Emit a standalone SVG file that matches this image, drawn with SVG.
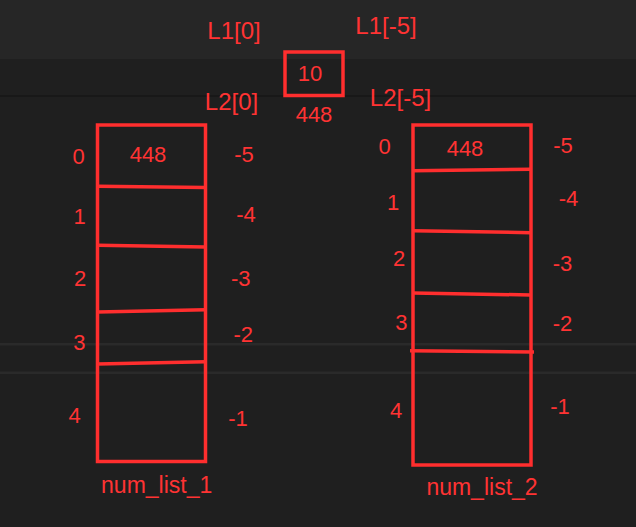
<svg xmlns="http://www.w3.org/2000/svg" width="636" height="527" viewBox="0 0 636 527">
<style>
text{font-family:"Liberation Sans",Arial,sans-serif;font-size:22px;fill:#ff3333;text-anchor:middle}
.big{font-size:23px}
.lbl{font-size:24px}
.box{fill:none;stroke:#ff2e2e;stroke-width:3.5}
.div{stroke:#ff2e2e;stroke-width:3.5;fill:none}
</style>
<rect x="0" y="0" width="636" height="527" fill="#1f1f1f"/>
<rect x="0" y="0" width="636" height="59" fill="#262626"/>
<rect x="0" y="95" width="636" height="2" fill="#181818"/>
<rect x="0" y="343" width="636" height="2.5" fill="#2a2a2a"/>
<rect x="0" y="371.5" width="636" height="2.5" fill="#2a2a2a"/>

<g id="value-node">
<rect class="box" x="285" y="52" width="58" height="43.5" stroke-width="4"/>
<text x="310" y="81">10</text>
<text x="314" y="121.5">448</text>
<text class="lbl" x="234" y="38.5">L1[0]</text>
<text class="lbl" x="386" y="33.5">L1[-5]</text>
<text class="lbl" x="231.5" y="110">L2[0]</text>
<text class="lbl" x="400.5" y="106">L2[-5]</text>
</g>

<g id="num_list_1">
<rect class="box" x="97.5" y="125" width="108" height="336.5"/>
<g class="dividers">
<line class="div" x1="97.5" y1="186.3" x2="205.5" y2="187.5"/>
<line class="div" x1="97.5" y1="245.3" x2="205.5" y2="247"/>
<line class="div" x1="97.5" y1="312" x2="205.5" y2="309.7"/>
<line class="div" x1="97.5" y1="364" x2="205.5" y2="361.7"/>
</g>
<text x="148" y="161.5">448</text>
<text x="78.5" y="164">0</text>
<text x="79.5" y="224">1</text>
<text x="80" y="285.5">2</text>
<text x="79.3" y="350">3</text>
<text x="74.7" y="423">4</text>
<text x="244" y="161.5">-5</text>
<text x="246" y="222">-4</text>
<text x="240.7" y="285.5">-3</text>
<text x="243.3" y="341.5">-2</text>
<text x="238" y="425.5">-1</text>
<text class="big" x="156.7" y="493">num_list_1</text>
</g>

<g id="num_list_2">
<rect class="box" x="413" y="125" width="118" height="340"/>
<g class="dividers">
<line class="div" x1="413" y1="170.7" x2="531" y2="169.3"/>
<line class="div" x1="413" y1="230.7" x2="531" y2="232.7"/>
<line class="div" x1="413" y1="293" x2="531" y2="295"/>
<line class="div" x1="410" y1="350.7" x2="534" y2="352"/>
</g>
<text x="465" y="156">448</text>
<text x="384.5" y="154">0</text>
<text x="393" y="210">1</text>
<text x="399" y="266">2</text>
<text x="401.4" y="330">3</text>
<text x="396" y="418.3">4</text>
<text x="563" y="152.7">-5</text>
<text x="568.5" y="206">-4</text>
<text x="562.5" y="270.7">-3</text>
<text x="562.5" y="330.7">-2</text>
<text x="560" y="414">-1</text>
<text class="big" x="482" y="495">num_list_2</text>
</g>

<g id="connectors"></g>
</svg>
